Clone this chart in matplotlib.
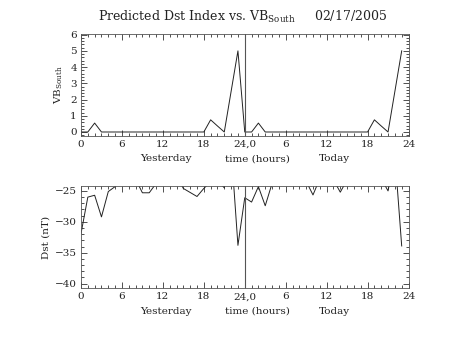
import numpy as np
import matplotlib
matplotlib.use("Agg")
import matplotlib.pyplot as plt
from matplotlib.ticker import MultipleLocator

# hourly samples: yesterday 0-23, today 24-47
hours = np.arange(48)

# southward IMF driver, VB_south (mV/m)
vb_south = [0, 0, 0.55, 0, 0, 0, 0, 0, 0, 0, 0, 0,
            0, 0, 0, 0, 0, 0, 0, 0.75, 0.37, 0, 2.5, 5.0,
            0, 0, 0.55, 0, 0, 0, 0, 0, 0, 0, 0, 0,
            0, 0, 0, 0, 0, 0, 0, 0.75, 0.37, 0, 2.5, 5.0]

# predicted Dst (nT); values above -24.2 run off the top of the plot
dst = [-31.9, -26.0, -25.7, -29.2, -25.1, -24.3, -23.0, -22.8, -23.1, -25.3, -25.3, -23.8,
       -23.0, -22.8, -22.5, -24.6, -25.25, -25.9, -24.6, -23.5, -23.2, -24.5, -18.0, -33.8,
       -26.1, -26.8, -24.3, -27.4, -23.8, -23.2, -23.0, -23.0, -23.2, -23.45, -25.65, -23.0,
       -23.0, -23.2, -25.2, -23.2, -23.0, -23.0, -23.0, -23.0, -23.0, -25.0, -19.2, -33.9]

tick_pos = np.arange(0, 49, 6)
tick_lab = ["0", "6", "12", "18", "24,0", "6", "12", "18", "24"]

plt.rcParams['font.family'] = 'DejaVu Serif'
plt.rcParams['mathtext.fontset'] = 'dejavuserif'
plt.rcParams['font.size'] = 7.5

fig = plt.figure(figsize=(4.53, 3.40), dpi=100)
ax1 = fig.add_axes([0.1788, 0.6, 0.723, 0.3])
ax2 = fig.add_axes([0.1788, 0.152, 0.723, 0.301])


def style_axis(ax):
    ax.set_xlim(0, 48)
    ax.set_xticks(tick_pos)
    ax.set_xticklabels(tick_lab)
    ax.xaxis.set_minor_locator(MultipleLocator(1))
    ax.tick_params(which='both', direction='in', top=True, right=True,
                   width=0.6, color='#333333', labelcolor='#222222', pad=3)
    ax.tick_params(which='major', length=4)
    ax.tick_params(which='minor', length=2)
    for s in ax.spines.values():
        s.set_linewidth(0.6)
        s.set_color('#555555')
    ax.axvline(24, color='#555555', lw=0.8)
    for x, word in [(12.4, "Yesterday"), (25.8, "time (hours)"), (37.2, "Today")]:
        ax.text(x, -0.18, word, transform=ax.get_xaxis_transform(),
                ha='center', va='top', color='#222222')


ax1.plot(hours, vb_south, color='#222222', lw=0.7)
ax1.set_ylim(-0.247, 6.04)
ax1.set_yticks(range(7))
ax1.yaxis.set_minor_locator(MultipleLocator(0.2))
ax1.set_ylabel("VB$_{\\rm South}$", color='#222222', labelpad=4)
style_axis(ax1)

ax2.plot(hours, dst, color='#222222', lw=0.7)
ax2.set_ylim(-40.75, -24.2)
ax2.set_yticks([-25, -30, -35, -40])
ax2.yaxis.set_minor_locator(MultipleLocator(1))
ax2.set_ylabel("Dst (nT)", color='#222222', labelpad=3)
style_axis(ax2)

fig.text(0.535, 0.95, "Predicted Dst Index vs. VB$_{\\rm South}$     02/17/2005",
         ha='center', va='center', fontsize=9, color='#222222')

fig.savefig("out.png", dpi=100)
